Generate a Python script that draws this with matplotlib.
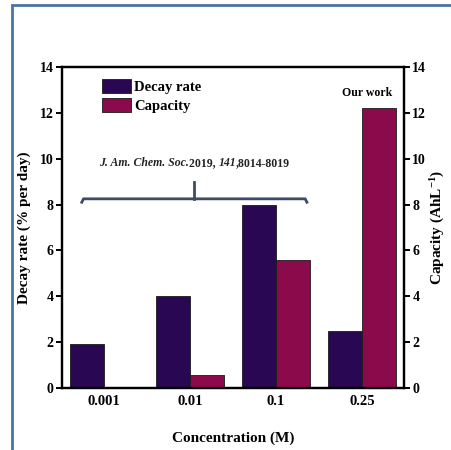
import matplotlib
matplotlib.use("Agg")
from matplotlib import pyplot as plt
from matplotlib.patches import Rectangle
from matplotlib.transforms import offset_copy
import numpy as np

concentrations = ["0.001", "0.01", "0.1", "0.25"]
decay_rate = [1.9, 4.0, 8.0, 2.5]
capacity = [0.05, 0.55, 5.6, 12.2]
y_ticks = [0, 2, 4, 6, 8, 10, 12, 14]

# reference note, split into (text, style) pieces
ref_parts = [("J. Am. Chem. Soc.", "italic"), ("2019, ", "normal"), ("141", "italic"), (",8014-8019", "normal")]

decay_color = "#2a0752"
capacity_color = "#8a0a4c"
bracket_color = "#3d4b68"

plt.rcParams['font.family'] = ['Liberation Serif', 'DejaVu Serif']
plt.rcParams['font.weight'] = 'bold'
plt.rcParams['axes.labelweight'] = 'bold'
plt.rcParams['mathtext.fontset'] = 'custom'
plt.rcParams['mathtext.rm'] = 'Liberation Serif:bold'
plt.rcParams['mathtext.it'] = 'Liberation Serif:italic:bold'
plt.rcParams['mathtext.bf'] = 'Liberation Serif:bold'

fig = plt.figure(figsize=(4.52, 4.50), dpi=100)
ax = fig.add_axes([62 / 452, 1 - 388 / 450, 342 / 452, 321 / 450])
ax2 = ax.twinx()

x = np.arange(len(concentrations))
w = 0.4
b1 = ax.bar(x - w / 2, decay_rate, w, color=decay_color, edgecolor="#1a1a1a", linewidth=0.6, label="Decay rate")
b2 = ax2.bar(x + w / 2, capacity, w, color=capacity_color, edgecolor="#1a1a1a", linewidth=0.6, label="Capacity")

for a in (ax, ax2):
    a.set_ylim(0, 14)
    a.set_yticks(y_ticks)
    a.set_xlim(-0.49, 3.49)
    for s in a.spines.values():
        s.set_linewidth(1.6)
    a.tick_params(axis="y", direction="out", length=4, width=1.4, labelsize=10, pad=2)
    for t in a.get_yticklabels():
        t.set_fontweight("bold")

ax.set_xticks(x)
ax.set_xticklabels(concentrations, fontsize=10.5, fontweight="bold")
ax.tick_params(axis="x", length=0, pad=5)

ax.set_xlabel("Concentration (M)", fontsize=11, fontweight="bold", labelpad=17)
ax.set_ylabel("Decay rate (% per day)", fontsize=11, fontweight="bold", labelpad=6)
ax2.set_ylabel(r"Capacity (AhL$^{-1}$)", fontsize=11, fontweight="bold", labelpad=2)

ax.legend(handles=[b1, b2], loc="upper left", bbox_to_anchor=(0.1, 0.98), frameon=False,
          prop={"size": 10.5, "weight": "bold"}, handlelength=2.0, handleheight=1.1,
          handletextpad=0.2, labelspacing=0.25, borderaxespad=0)

ax2.text(3.06, 12.87, "Our work", ha="center", va="center", fontsize=8.5, fontweight="bold")

# bracket over literature data
bx0, bx1, by = -0.26, 2.36, 8.25
bc = (bx0 + bx1) / 2
ax.plot([bx0, bx0 + 0.02, bx1 - 0.02, bx1], [by - 0.15, by, by, by - 0.15], color=bracket_color, lw=2)
ax.plot([bc, bc], [by, by + 0.75], color=bracket_color, lw=2)

# reference text built from pieces, centred over the bracket
fig.canvas.draw()
r = fig.canvas.get_renderer()
pieces = []
for s, st in ref_parts:
    t = ax.text(0, 9.8, s, fontsize=8.5, style=st, fontweight="bold", color="#222222", va="center", ha="left")
    pieces.append(t)
widths = [t.get_window_extent(r).width for t in pieces]
total = sum(widths) * 72 / fig.dpi
off = -total / 2
for t, wd in zip(pieces, widths):
    t.set_x(bc)
    t.set_transform(offset_copy(ax.transData, fig=fig, x=off, y=0, units="points"))
    off += wd * 72 / fig.dpi

# page frame
fig.patches.append(Rectangle((12 / 452, -0.05), 1.1, 1 - 5 / 450 + 0.05, transform=fig.transFigure,
                             fill=False, edgecolor="#4a74a6", linewidth=2))

fig.savefig("out.png", dpi=100)
